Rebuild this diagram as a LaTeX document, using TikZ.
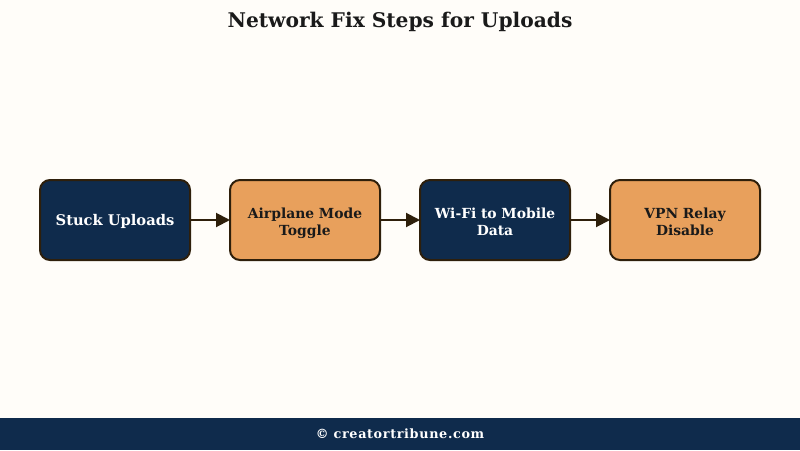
\documentclass[tikz,border=0pt]{standalone}
\usepackage{fontspec}
\setmainfont{DejaVu Serif}
\newfontfamily\footfont{DejaVu Serif}[LetterSpace=5]
\usetikzlibrary{arrows.meta}
\definecolor{bgc}{HTML}{FFFDF9}
\definecolor{navy}{HTML}{0F2B4C}
\definecolor{orng}{HTML}{E8A05C}
\definecolor{edge}{HTML}{2E1F0B}
\definecolor{ttl}{HTML}{1A1A1A}
\newcommand{\lowertext}[1]{\rule{0pt}{#1}}
\newcommand{\deeptext}{\rule[-3.3pt]{0pt}{3.3pt}}
\tikzset{x=1pt,y=-1pt,
 box/.style={draw=edge,line width=2pt,rounded corners=10pt,minimum width=150pt,minimum height=80pt,align=center,font=\bfseries\fontsize{13.9}{17.5}\selectfont,inner sep=0pt,text width=140pt},
 navybox/.style={box,fill=navy,text=white},
 orngbox/.style={box,fill=orng,text=ttl},
 conn/.style={draw=edge,line width=2pt,shorten >=-1pt,-{Triangle[length=14pt,width=14pt]}}}
\begin{document}
\begin{tikzpicture}
\useasboundingbox (0,0) rectangle (800,450);
\fill[bgc] (0,0) rectangle (800,450);
\fill[navy] (0,418) rectangle (800,450);
\node[font=\bfseries\fontsize{20.2}{24}\selectfont,text=ttl] (title) at (400,22) {Network Fix Steps for Uploads};
\node[font=\footfont\bfseries\fontsize{12.8}{16}\selectfont,text=white] (foot) at (400,434) {© creatortribune.com};
\node[navybox,font=\bfseries\fontsize{14.7}{18}\selectfont] (a) at (115,220) {\lowertext{15pt}Stuck Uploads};
\node[orngbox] (b) at (305,220) {\lowertext{17pt}Airplane Mode\\Toggle};
\node[navybox] (c) at (495,220) {\lowertext{17pt}Wi-Fi to Mobile\\Data\deeptext};
\node[orngbox] (d) at (685,220) {\lowertext{17pt}VPN Relay\\Disable\deeptext};
\draw[conn] (a) -- (b);
\draw[conn] (b) -- (c);
\draw[conn] (c) -- (d);
\end{tikzpicture}
\end{document}
